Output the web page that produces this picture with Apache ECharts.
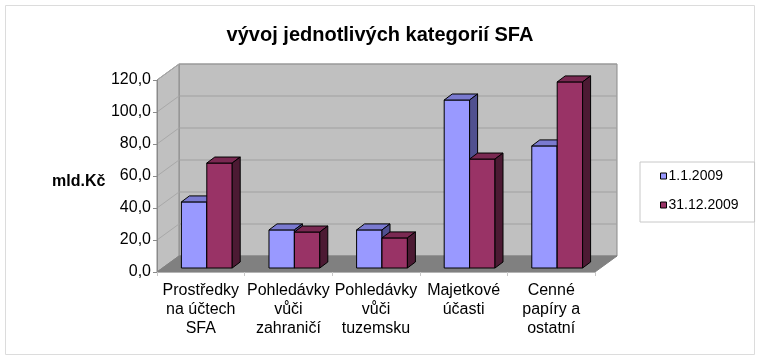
<!DOCTYPE html>
<html>
<head>
<meta charset="utf-8">
<script src="https://cdn.jsdelivr.net/npm/echarts@6/dist/echarts.min.js"></script>
<style>html,body{margin:0;padding:0;background:#fff;}#c{width:760px;height:359px;}</style>
</head>
<body>
<div id="c"></div>
<script>
const categories = ['Prostředky\nna účtech\nSFA', 'Pohledávky\nvůči\nzahraničí', 'Pohledávky\nvůči\ntuzemsku', 'Majetkové\núčasti', 'Cenné\npapíry a\nostatní'];
const seriesNames = ['1.1.2009', '31.12.2009'];
const valuesStart = [41.3, 23.8, 23.8, 105.0, 76.3];
const valuesEnd = [65.6, 22.5, 18.8, 68.1, 116.3];
const yTicks = [0, 20, 40, 60, 80, 100, 120];

const FONT = "'Liberation Sans', Arial, sans-serif";
const DX = 22, DY = -16;       // wall depth
const FX = 6, FY = -4;         // bar front offset into depth
const BX = 8, BY = -6;         // bar depth
const BAR_FRAC = 0.29;

function wallRender(params, api) {
  const cs = params.coordSys;
  const x0 = cs.x, x1 = cs.x + cs.width, yt = cs.y, yb = cs.y + cs.height;
  const children = [];
  children.push({type:'polygon', shape:{points:[[x0+DX,yt+DY],[x1+DX,yt+DY],[x1+DX,yb+DY],[x0+DX,yb+DY]]}, style:{fill:'#c0c0c0', stroke:'#8a8a8a', lineWidth:1}});
  children.push({type:'polygon', shape:{points:[[x0,yt],[x0+DX,yt+DY],[x0+DX,yb+DY],[x0,yb]]}, style:{fill:'#c0c0c0', stroke:'#8a8a8a', lineWidth:1}});
  yTicks.forEach(function(v){
    if (v === 0) return;
    const y = api.coord([0, v])[1];
    children.push({type:'line', shape:{x1:x0+DX, y1:y+DY, x2:x1+DX, y2:y+DY}, style:{stroke:'#a0a0a0', lineWidth:1}});
    children.push({type:'line', shape:{x1:x0, y1:y, x2:x0+DX, y2:y+DY}, style:{stroke:'#a8a8a8', lineWidth:1}});
  });
  children.push({type:'polygon', shape:{points:[[x0,yb],[x0+DX,yb+DY],[x1+DX,yb+DY],[x1,yb]]}, style:{fill:'#808080', stroke:'#808080', lineWidth:1}});
  return {type:'group', children: children};
}

function makeBar(name, values, side, front, top, sideCol) {
  return {
    name: name,
    type: 'custom',
    z: 3,
    clip: false,
    itemStyle: {color: front},
    data: values.map(function(v, i){ return [i, v]; }),
    encode: {x: 0, y: 1},
    renderItem: function(params, api) {
      const i = api.value(0), v = api.value(1);
      const c = api.coord([i, v]);
      const base = api.coord([i, 0]);
      const band = api.size([1, 0])[0];
      const w = band * BAR_FRAC;
      const xa = c[0] + FX + (side === 0 ? -w : 0);
      const xb = xa + w;
      const yt = c[1] + FY, yb = base[1] + FY;
      const st = {stroke:'#000', lineWidth:1, lineJoin:'round'};
      return {type:'group', children:[
        {type:'polygon', shape:{points:[[xa,yt],[xb,yt],[xb,yb],[xa,yb]]}, style:Object.assign({fill:front}, st)},
        {type:'polygon', shape:{points:[[xa,yt],[xb,yt],[xb+BX,yt+BY],[xa+BX,yt+BY]]}, style:Object.assign({fill:top}, st)},
        {type:'polygon', shape:{points:[[xb,yt],[xb+BX,yt+BY],[xb+BX,yb+BY],[xb,yb]]}, style:Object.assign({fill:sideCol}, st)}
      ]};
    }
  };
}

const chart = echarts.init(document.getElementById('c'), null, {renderer:'canvas'});
chart.setOption({
  animation: false,
  backgroundColor: '#fff',
  textStyle: {fontFamily: FONT},
  graphic: [{type:'rect', z:-10, shape:{x:5.5, y:5.5, width:749, height:349}, style:{fill:'none', stroke:'#dcdcdc', lineWidth:1}}],
  title: [
    {text:'vývoj jednotlivých kategorií SFA', left:'center', top:20, textStyle:{fontFamily:FONT, fontSize:20, fontWeight:'bold', color:'#000'}},
    {text:'mld.Kč', left:47, top:169, textStyle:{fontFamily:FONT, fontSize:16, fontWeight:'bold', color:'#000'}}
  ],
  legend: {
    orient:'vertical', left:640, top:162,
    padding:[7, 16, 10, 20], itemGap:15, itemWidth:6, itemHeight:6, icon:'rect',
    borderColor:'#c8c8c8', borderWidth:1, backgroundColor:'#fff',
    textStyle:{fontFamily:FONT, fontSize:14, color:'#000', padding:[0,0,0,-3]},
    data:[
      {name:seriesNames[0], itemStyle:{color:'#9999ff', borderColor:'#000', borderWidth:1}},
      {name:seriesNames[1], itemStyle:{color:'#993366', borderColor:'#000', borderWidth:1}}
    ]
  },
  grid: {left:157, top:80, width:438, height:192, containLabel:false},
  xAxis: {
    type:'category', data:categories, z:10,
    axisLine:{show:true, lineStyle:{color:'#b4b4b4'}},
    axisTick:{show:true, length:4, lineStyle:{color:'#c8c8c8'}},
    axisLabel:{interval:0, fontFamily:FONT, fontSize:16, lineHeight:19, color:'#000', margin:9},
    splitLine:{show:false}
  },
  yAxis: {
    type:'value', min:0, max:120, interval:20, z:10,
    axisLine:{show:true, lineStyle:{color:'#8a8a8a'}},
    axisTick:{show:true, length:4, lineStyle:{color:'#8a8a8a'}},
    axisLabel:{fontFamily:FONT, fontSize:16, color:'#000', margin:6, formatter:function(v){return v.toFixed(1).replace('.', ',');}},
    splitLine:{show:false}
  },
  series: [
    {type:'custom', name:'walls', z:1, silent:true, clip:false, data:[[0,0]], encode:{x:0,y:1}, renderItem:wallRender},
    makeBar(seriesNames[0], valuesStart, 0, '#9999ff', '#7a7ad0', '#505090'),
    makeBar(seriesNames[1], valuesEnd, 1, '#993366', '#7a2952', '#4c1a33')
  ]
});
</script>
</body>
</html>
